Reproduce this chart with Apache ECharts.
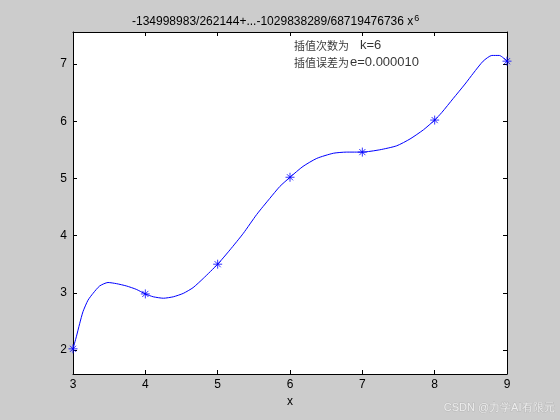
<!DOCTYPE html>
<html><head><meta charset="utf-8">
<script src="https://cdn.jsdelivr.net/npm/echarts@6/dist/echarts.min.js"></script>
<style>html,body{margin:0;padding:0;background:#cccccc}#c{width:560px;height:420px}</style>
</head><body><div id="c"></div>
<script>
// interpolation nodes
const nodeX = [3, 4, 5, 6, 7, 8, 9];
const nodeY = [2.02, 2.98, 3.50, 5.02, 5.46, 6.02, 7.05];
// interpolating curve
const curveX = [3.0, 3.046, 3.092, 3.138, 3.207, 3.277, 3.369, 3.484, 3.60, 3.737, 3.875, 4.0, 4.11, 4.25, 4.387, 4.525, 4.66, 4.80, 5.0, 5.17, 5.355, 5.54, 5.72, 5.86, 6.0, 6.18, 6.37, 6.60, 6.78, 7.0, 7.24, 7.475, 7.66, 7.845, 8.0, 8.097, 8.258, 8.42, 8.535, 8.67, 8.79, 8.895, 9.0];
const curveY = [2.02, 2.23, 2.46, 2.67, 2.87, 2.99, 3.12, 3.18, 3.16, 3.12, 3.06, 2.98, 2.93, 2.905, 2.93, 2.99, 3.09, 3.25, 3.50, 3.75, 4.04, 4.37, 4.65, 4.86, 5.02, 5.21, 5.35, 5.44, 5.46, 5.46, 5.50, 5.57, 5.69, 5.85, 6.02, 6.15, 6.40, 6.65, 6.84, 7.05, 7.15, 7.15, 7.05];
const xTicks = [3, 4, 5, 6, 7, 8, 9];
const yTicks = [2, 3, 4, 5, 6, 7];
const titleMain = '-134998983/262144+...-1029838289/68719476736 x';
const titleSup = '6';
const noteLabels = ['插值次数为', '插值误差为'];
const noteValues = ['k=6', 'e=0.000010'];
const noteX = [6.055, 6.055];
const noteY = [7.32, 7.02];
const xName = 'x';
const watermark = 'CSDN @力学AI有限元';

const FONT = '"Liberation Sans", Arial, Helvetica, sans-serif';
const CJK = '"Noto Sans CJK SC", sans-serif';
const XMIN = 3, XMAX = 9, YMIN = 1.58, YMAX = 7.56;

const chart = echarts.init(document.getElementById('c'), null, {renderer: 'canvas', width: 560, height: 420});

const axisCommon = {
  axisLine: {show: true, onZero: false, lineStyle: {color: '#000', width: 1}},
  axisTick: {show: true, inside: true, length: 4, lineStyle: {color: '#000'}},
  splitLine: {show: false}
};

chart.setOption({
  backgroundColor: '#cccccc',
  animation: false,
  title: {
    text: '{a|' + titleMain + '}{s|' + titleSup + '}',
    left: 127, top: 9,
    textStyle: {
      fontWeight: 'normal',
      rich: {
        a: {fontFamily: FONT, fontSize: 12, fontWeight: 'normal', color: '#000', lineHeight: 16},
        s: {fontFamily: FONT, fontSize: 9, fontWeight: 'normal', color: '#000', verticalAlign: 'top', lineHeight: 16, padding: [0, 0, 6, 1]}
      }
    }
  },
  grid: {left: 73, right: 53, top: 32, bottom: 46, show: true, backgroundColor: '#ffffff', borderWidth: 0},
  xAxis: [
    Object.assign({}, axisCommon, {
      type: 'value', min: XMIN, max: XMAX, position: 'bottom',
      axisTick: Object.assign({}, axisCommon.axisTick, {customValues: xTicks}),
      axisLabel: {customValues: xTicks, color: '#000', fontFamily: FONT, fontSize: 12, margin: 5},
      name: xName, nameLocation: 'middle', nameGap: 17,
      nameTextStyle: {color: '#000', fontFamily: FONT, fontSize: 12}
    }),
    Object.assign({}, axisCommon, {
      type: 'value', min: XMIN, max: XMAX, position: 'top',
      axisTick: Object.assign({}, axisCommon.axisTick, {customValues: xTicks}),
      axisLabel: {show: false}
    })
  ],
  yAxis: [
    Object.assign({}, axisCommon, {
      type: 'value', min: YMIN, max: YMAX, position: 'left',
      axisTick: Object.assign({}, axisCommon.axisTick, {customValues: yTicks}),
      axisLabel: {customValues: yTicks, color: '#000', fontFamily: FONT, fontSize: 12, margin: 6}
    }),
    Object.assign({}, axisCommon, {
      type: 'value', min: YMIN, max: YMAX, position: 'right',
      axisTick: Object.assign({}, axisCommon.axisTick, {customValues: yTicks}),
      axisLabel: {show: false}
    })
  ],
  graphic: [{
    type: 'text', right: 5, top: 402, silent: true,
    style: {text: watermark, font: '11px ' + FONT, fill: 'rgba(255,255,255,0.75)', stroke: 'rgba(150,150,150,0.35)', lineWidth: 1}
  }],
  series: [
    {
      type: 'line', xAxisIndex: 0, yAxisIndex: 0,
      data: curveX.map((x, i) => [x, curveY[i]]),
      showSymbol: false, smooth: 0.2,
      lineStyle: {color: '#0000ff', width: 1}
    },
    {
      type: 'scatter', xAxisIndex: 0, yAxisIndex: 0, clip: false,
      data: nodeX.map((x, i) => [x, nodeY[i]]),
      symbol: 'path://M0 5L10 5M5 0L5 10M1.6 1.6L8.4 8.4M8.4 1.6L1.6 8.4',
      symbolSize: 9,
      itemStyle: {color: 'rgba(0,0,0,0)', borderColor: '#0000ff', borderWidth: 1}
    },
    {
      type: 'scatter', xAxisIndex: 0, yAxisIndex: 0, clip: false,
      data: noteX.map((x, i) => [x, noteY[i]]),
      symbolSize: 0, silent: true,
      label: {
        show: true, position: [0, 0], align: 'left', verticalAlign: 'middle',
        formatter: p => '{c|' + noteLabels[p.dataIndex] + '}{l' + p.dataIndex + '|' + noteValues[p.dataIndex] + '}',
        rich: {
          c: {fontFamily: CJK, fontSize: 11, color: '#000'},
          l0: {fontFamily: FONT, fontSize: 13, color: '#000', padding: [0, 0, 0, 11]},
          l1: {fontFamily: FONT, fontSize: 13, color: '#000', padding: [0, 0, 0, 1]}
        }
      }
    }
  ]
});
</script>
</body></html>
